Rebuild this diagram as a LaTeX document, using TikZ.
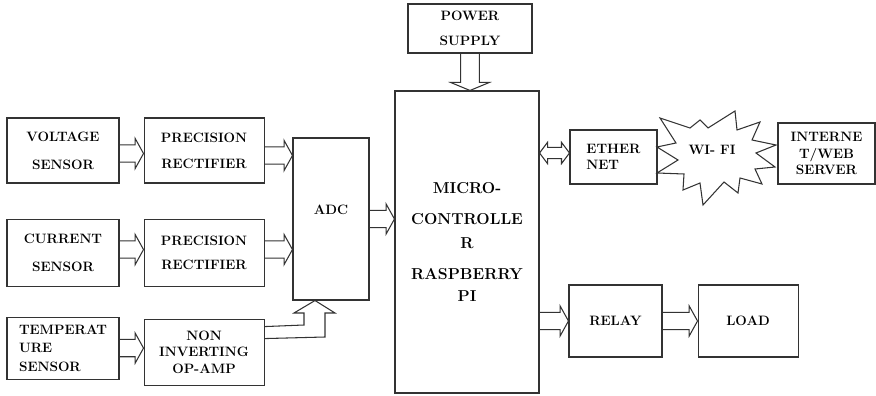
\documentclass[tikz,border=0pt]{standalone}
\usetikzlibrary{arrows.meta,positioning,calc}

\tikzset{
  blk/.style={draw, align=center, inner sep=1pt},
  % hollow block arrow, tip at the target's x
  fat/.style={to path={let \p1=(\tikztostart), \p2=(\tikztotarget) in
    (\x1,\y1+2.6mm) -- (\x2-2.5mm,\y1+2.6mm) -- (\x2-2.5mm,\y1+4.5mm) -- (\x2,\y1)
    -- (\x2-2.5mm,\y1-4.5mm) -- (\x2-2.5mm,\y1-2.6mm) -- (\x1,\y1-2.6mm)}},
  fatboth/.style={to path={let \p1=(\tikztostart), \p2=(\tikztotarget) in
    (\x1+2.4mm,\y1+1.7mm) -- (\x2-2.4mm,\y1+1.7mm) -- (\x2-2.4mm,\y1+3.2mm) -- (\x2,\y1)
    -- (\x2-2.4mm,\y1-3.2mm) -- (\x2-2.4mm,\y1-1.7mm) -- (\x1+2.4mm,\y1-1.7mm)
    -- (\x1+2.4mm,\y1-3.2mm) -- (\x1,\y1) -- (\x1+2.4mm,\y1+3.2mm) -- cycle}},
  fatdown/.style={to path={let \p1=(\tikztostart), \p2=(\tikztotarget) in
    (\x1-2.8mm,\y1) -- (\x1-2.8mm,\y2+2.4mm) -- (\x1-5.8mm,\y2+2.4mm) -- (\x1,\y2)
    -- (\x1+5.8mm,\y2+2.4mm) -- (\x1+2.8mm,\y2+2.4mm) -- (\x1+2.8mm,\y1)}}
}

\begin{document}
\begin{tikzpicture}[x=0.3mm, y=-0.3mm, line width=0.9pt, draw=black!80,
    font=\fontsize{11.6}{14}\selectfont\bfseries, node distance=7.2mm]
  \useasboundingbox (0,0) rectangle (876,396);

  % sensors and conditioning
  \node[blk, minimum width=33.6mm, minimum height=19.5mm] (VS) at (63,150.5) {VOLTAGE\\[3.4mm]SENSOR};
  \node[blk, minimum width=36mm, minimum height=19.5mm, right=of VS] (PR1) {PRECISION\\[2.8mm]RECTIFIER};
  \node[blk, minimum width=33.6mm, minimum height=20.1mm, below=10.5mm of VS] (CS) {CURRENT\\[3.4mm]SENSOR};
  \node[blk, minimum width=36mm, minimum height=20.1mm, right=of CS] (PR2) {PRECISION\\[2.2mm]RECTIFIER};
  \node[blk, align=left, minimum width=33.6mm, minimum height=18.6mm, below=9mm of CS] (TS) {TEMPERAT\\[0.6mm]URE\\[0.6mm]SENSOR};
  \node[blk, minimum width=36mm, minimum height=19.8mm, right=of TS, yshift=-1.2mm] (NI) {NON\\INVERTING\\OP-AMP};

  % converter and controller
  \node[blk, minimum width=22.8mm, minimum height=48.6mm] (ADC) at (331,219) {ADC\\[0.5mm]};
  \node[blk, minimum width=43.2mm, minimum height=90.6mm, font=\fontsize{13.5}{16}\selectfont\bfseries] (MC) at (467,242)
    {MICRO-\\[3.7mm]CONTROLLE\\[1.6mm]R\\[3.7mm]RASPBERRY\\[1mm]PI};
  \node[blk, minimum width=37.2mm, minimum height=14.7mm] (PS) at (470,28.5) {POWER\\[2.5mm]SUPPLY};

  % outputs
  \node[blk, align=left, minimum width=26.1mm, minimum height=16.2mm] (ETH) at (613.5,157) {ETHER\\NET};
  \node[blk, minimum width=29.1mm, minimum height=18.3mm] (INT) at (826.5,153.5) {INTERNE\\T/WEB\\SERVER};
  \node[blk, minimum width=27.9mm, minimum height=21.6mm] (RELAY) at (615.5,321) {RELAY};
  \node[blk, minimum width=30mm, minimum height=21.6mm, right=10.5mm of RELAY] (LOAD) {LOAD};

  % wi-fi burst
  \draw (657,147) -- (676,143) -- (660,118) -- (690,128) -- (700,120) -- (708,128)
    -- (735,111) -- (737,130) -- (760,122) -- (752,140) -- (776,145) -- (756,153)
    -- (775,167) -- (755,169) -- (762,184) -- (740,178) -- (738,193) -- (724,182)
    -- (703,205) -- (700,183) -- (683,190) -- (684,174) -- (657,173) -- (678,160) -- cycle;
  \node (WIFI) at (712,150) {WI- FI};

  % block arrows
  \draw[fat] ($(VS.east)+(0,3)$) to (PR1.west);
  \draw[fat] ($(PR1.east)+(0,5)$) to (ADC.west);
  \draw[fat] ($(CS.east)+(0,-3)$) to (PR2.west);
  \draw[fat] ($(PR2.east)+(0,-3)$) to (ADC.west);
  \draw[fat] (TS.east) to (NI.west);
  \draw[fat] (ADC.east) to (MC.west);
  \draw[fat] (MC.east |- RELAY.west) to (RELAY.west);
  \draw[fat] (RELAY.east) to (LOAD.west);
  \draw[fatboth] ($(MC.east |- ETH.west)+(0,-4)$) to (ETH.west);
  \draw[fatdown] (PS.south) to (MC.north);
  \draw ($(NI.north east)+(0,8)$) -- (304,325) -- (304,313) -- (294,313) -- ($(ADC.south)+(-16,0)$)
    -- (335,313) -- (325,313) -- (325,337) -- ($(NI.north east)+(0,20)$);
\end{tikzpicture}
\end{document}
